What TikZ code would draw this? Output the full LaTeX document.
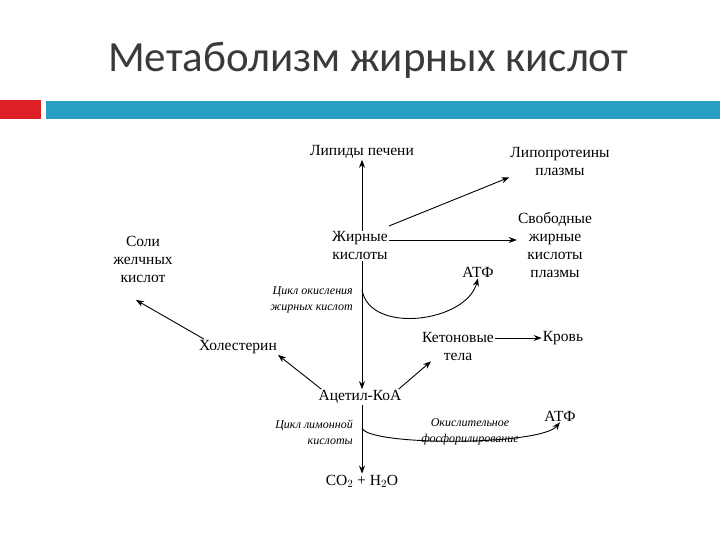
\documentclass[tikz,border=0pt]{standalone}
\usepackage{fontspec}
\setmainfont{Liberation Serif}
\newfontfamily\titlefont{Carlito}
\usetikzlibrary{arrows.meta,calc}
\definecolor{barblue}{HTML}{2A9FC4}
\definecolor{barred}{HTML}{DD1F26}
\definecolor{titlegray}{HTML}{3A3A3A}
\begin{document}
\begin{tikzpicture}[x=1pt,y=-1pt,
  lbl/.style={font=\fontsize{15.5}{18}\selectfont,align=center,inner sep=1pt},
  ital/.style={font=\itshape\fontsize{12}{16}\selectfont,align=center,inner sep=1pt},
  arr/.style={-{Stealth[length=8pt,width=6pt]},line width=0.9pt}]
\useasboundingbox (0,0) rectangle (720,540);
\node[font=\titlefont\fontsize{43}{48}\selectfont,text=titlegray] (title) at (368,60) {Метаболизм жирных кислот};
\fill[barred] (0,100) rectangle (41,119);
\fill[barblue] (46,101) rectangle (720,119);
\node[lbl] (lip) at (362,152) {Липиды печени};
\node[lbl] (lpp) at (560,162) {Липопротеины\\плазмы};
\node[lbl] (sjk) at (555,245) {Свободные\\жирные\\кислоты\\плазмы};
\node[lbl] (soli) at (143,259) {Соли\\желчных\\кислот};
\node[lbl] (zk) at (360,246) {Жирные\\кислоты};
\node[lbl] (atf1) at (478,272) {АТФ};
\node[ital,align=right,anchor=east] (cyc1) at (354,300) {Цикл окисления\\жирных кислот};
\node[lbl] (chol) at (238,347) {Холестерин};
\node[lbl] (ket) at (458,346) {Кетоновые\\тела};
\node[lbl] (krov) at (563,338) {Кровь};
\node[lbl] (acet) at (360,397) {Ацетил-КоА};
\node[ital,align=right,anchor=east] (cyc2) at (354,432) {Цикл лимонной\\кислоты};
\node[ital] (ox) at (470,432) {Окислительное\\фосфорилирование};
\node[lbl] (atf2) at (560,416) {АТФ};
\node[lbl] (co2) at (362,481) {CO$_2$ + H$_2$O};
\coordinate (c1) at (362,290);
\coordinate (c2) at (362,428);
\coordinate (solitip) at (136,300);
\draw[arr] (zk.north -| c1) -- (lip.south -| c1);
\draw[arr] (zk.south -| c1) -- (acet.north -| c1);
\draw[arr] (acet.south -| c2) -- (co2.north -| c2);
\draw[arr] (zk.east |- 0,226) -- (lpp.south west);
\draw[arr] (zk.east |- 0,240) -- (sjk.west |- 0,240);
\draw[arr] (c1) to[out=-80,in=-105] (atf1.south);
\draw[arr] (c2) .. controls (368,446) and (540,446) .. (atf2.south);
\draw[arr] ($(acet.north west)+(4,0)$) -- (chol.south east);
\draw[arr] ($(chol.north west)+(6,0)$) -- (solitip);
\draw[arr] ($(acet.north east)+(-4,0)$) -- ($(ket.south west)+(10,0)$);
\draw[arr] (ket.east |- krov) -- (krov.west);
\end{tikzpicture}
\end{document}
